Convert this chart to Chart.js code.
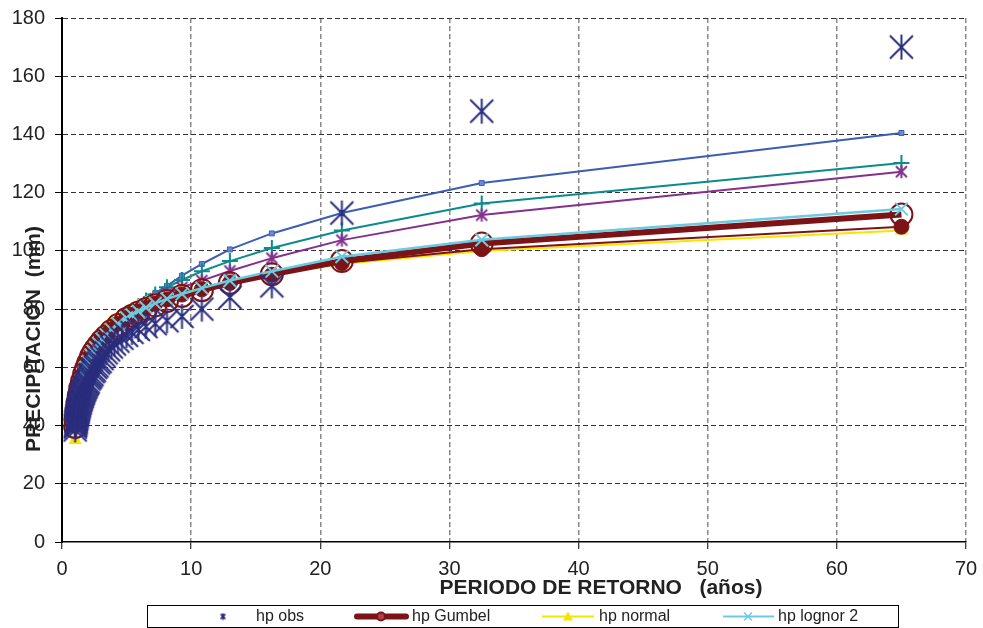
<!DOCTYPE html>
<html>
<head>
<meta charset="utf-8">
<script src="https://cdn.jsdelivr.net/npm/chart.js@4.4.1/dist/chart.umd.min.js"></script>
<style>
  body { margin: 0; background: #fff; }
  #wrap { width: 983px; height: 628px; }
</style>
</head>
<body>
<div id="wrap"><canvas id="myChart" width="983" height="628"></canvas></div>
<script>
// periodos de retorno de la muestra observada (64 datos)
const tObs = [65, 32.5, 21.67, 16.25, 13, 10.83, 9.29, 8.13, 7.22, 6.5, 5.91, 5.42, 5, 4.64, 4.33, 4.06,
  3.82, 3.61, 3.42, 3.25, 3.1, 2.95, 2.83, 2.71, 2.6, 2.5, 2.41, 2.32, 2.24, 2.17, 2.1, 2.03,
  1.97, 1.91, 1.86, 1.81, 1.76, 1.71, 1.67, 1.63, 1.59, 1.55, 1.51, 1.48, 1.44, 1.41, 1.38, 1.35,
  1.33, 1.3, 1.27, 1.25, 1.23, 1.2, 1.18, 1.16, 1.14, 1.12, 1.1, 1.08, 1.07, 1.05, 1.03, 1.02];
const hpObs = [170, 148, 113, 88, 84, 80, 77.5, 76, 75, 74, 73, 72, 71, 70, 69, 68,
  67, 66, 65, 64, 63, 62, 61.5, 60.5, 60, 59, 58.5, 57.5, 57, 56.5, 56, 55,
  54.5, 54, 53.5, 53, 52.5, 52, 51.5, 51, 50.5, 50, 49.5, 49, 48.5, 48, 47.5, 47,
  46.5, 46, 45.5, 45, 44.5, 44, 43.5, 43, 42.5, 42, 41.5, 41, 40.5, 40, 39.5, 38.5];

// periodos de retorno para las curvas ajustadas
const tFit = [65, 32.5, 21.67, 16.25, 13, 10.83, 9.29, 8.13, 7.22, 6.5, 5.91, 5.42, 5, 4.33, 3.82, 3.42,
  3.1, 2.83, 2.6, 2.41, 2.24, 2.03, 1.86, 1.71, 1.55, 1.41, 1.3, 1.2, 1.12, 1.05, 1.02];

const hpGumbel = [112.5, 102.5, 96.5, 92, 89, 86.5, 84.5, 82.8, 81.3, 80, 78.8, 77.7, 76.7, 74.5, 72.5, 70.7,
  69.2, 67.7, 66.3, 65, 63.6, 61.5, 59.5, 57.6, 55.2, 52.8, 50.3, 47.8, 45.2, 41.8, 39.5];
const hpNormal = [107, 100, 95.5, 92, 89.5, 87.5, 86, 84.5, 83.2, 82, 81, 80, 79, 77, 75.3, 73.6,
  72, 70.5, 69, 67.5, 66, 63.5, 61.5, 59.3, 56.5, 53.5, 50.5, 47, 43.5, 38.5, 35];
const hpLognor2 = [114.4, 103.8, 98, 93, 89.8, 87.2, 85.2, 83.5, 82, 80.5, 79.2, 78, 77, 75, 73, 71.2,
  69.7, 68.2, 66.8, 65.5, 64.2, 62, 60, 58.2, 55.8, 53.5, 51, 48.5, 46, 42.5, 40];
// series sin entrada en la leyenda
const hpSerie5 = [140.5, 123.3, 113, 106, 100.5, 95.5, 91.5, 88, 85.5, 83.5, 81.5, 80, 78.5, 76, 73.5, 71.5,
  70, 68.3, 66.8, 65.3, 63.8, 61.3, 59.3, 57.3, 54.8, 52.3, 49.8, 47.3, 44.8, 41.8, 39.8];
const hpSerie6 = [130.2, 116.3, 107, 101, 96.5, 93, 90, 87.5, 85, 83, 81, 79.5, 78, 75.5, 73, 71,
  69.5, 68, 66.5, 65, 63.5, 61, 59, 57, 54.5, 52, 49.5, 47, 44.5, 41.5, 39.5];
const hpSerie7 = [127.2, 112.3, 103.7, 97.5, 93.1, 89.8, 87.5, 85.5, 83.5, 81.5, 80, 78.5, 77.5, 75, 72.5, 70.5,
  69, 67.5, 66, 64.5, 63, 60.5, 58.5, 56.5, 54, 51.5, 49, 46.5, 44, 41, 39];
const hpSerie8 = [108.3, 100.6, 95.8, 91.8, 89, 86.8, 85, 83.3, 81.8, 80.4, 79.2, 78, 77, 75, 73, 71.3,
  69.8, 68.3, 67, 65.6, 64.3, 62.2, 60.3, 58.4, 56, 53.6, 51.2, 48.6, 46, 42.6, 40];

const xTicks = [0, 10, 20, 30, 40, 50, 60, 70];
const yTicks = [0, 20, 40, 60, 80, 100, 120, 140, 160, 180];

const NAVY = '#2b2e7e';
const DRED = '#7c1417';
const YEL = '#f4e600';
const LBLUE = '#6ccbe0';
const BLUE = '#3d5db5';
const TEAL = '#0b8b8b';
const PURP = '#84308c';

function pts(xs, ys) {
    return xs.map((x, i) => ({ x: x, y: ys[i] }));
}

// asterisco estilo Excel (X + linea vertical)
function makeStar(size, color, lw) {
    const c = document.createElement('canvas');
    c.width = size; c.height = size;
    const g = c.getContext('2d');
    const p = lw;
    g.strokeStyle = color;
    g.lineWidth = lw;
    g.beginPath();
    g.moveTo(p, p); g.lineTo(size - p, size - p);
    g.moveTo(size - p, p); g.lineTo(p, size - p);
    g.moveTo(size / 2, p * 0.5); g.lineTo(size / 2, size - p * 0.5);
    g.stroke();
    return c;
}

const starObs = makeStar(27, NAVY, 2);
const starPurp = makeStar(15, PURP, 2);

const titles = {
    id: 'titles',
    afterDraw(chart) {
        const ctx = chart.ctx;
        ctx.save();
        ctx.fillStyle = '#222';
        ctx.font = 'bold 21px "Liberation Sans", Arial, sans-serif';
        ctx.textAlign = 'center';
        ctx.textBaseline = 'middle';
        ctx.fillText('PERIODO DE RETORNO   (años)', 601, 588);
        ctx.translate(34, 339);
        ctx.rotate(-Math.PI / 2);
        ctx.fillText('PRECIPITACION  (mm)', 0, 0);
        ctx.restore();

        // leyenda
        ctx.save();
        ctx.strokeStyle = '#000';
        ctx.lineWidth = 1;
        ctx.strokeRect(147.5, 605.5, 751, 22);
        const ly = 616.5;
        ctx.font = '16px "Liberation Sans", Arial, sans-serif';
        ctx.fillStyle = '#222';
        ctx.textAlign = 'left';
        ctx.textBaseline = 'middle';
        // hp obs
        ctx.drawImage(makeStar(8, NAVY, 1.6), 219, ly - 4);
        ctx.fillText('hp obs', 256, ly);
        // hp Gumbel
        ctx.strokeStyle = DRED; ctx.lineWidth = 6; ctx.lineCap = 'round';
        ctx.beginPath(); ctx.moveTo(357, ly); ctx.lineTo(406, ly); ctx.stroke();
        ctx.lineWidth = 2; ctx.fillStyle = '#b04040';
        ctx.beginPath(); ctx.arc(381, ly, 4, 0, Math.PI * 2); ctx.fill(); ctx.stroke();
        ctx.fillStyle = '#222';
        ctx.fillText('hp Gumbel', 412, ly);
        // hp normal
        ctx.strokeStyle = YEL; ctx.lineWidth = 2; ctx.lineCap = 'butt';
        ctx.beginPath(); ctx.moveTo(542, ly); ctx.lineTo(594, ly); ctx.stroke();
        ctx.fillStyle = YEL;
        ctx.beginPath(); ctx.moveTo(568, ly - 5); ctx.lineTo(573, ly + 4); ctx.lineTo(563, ly + 4); ctx.closePath(); ctx.fill();
        ctx.fillStyle = '#222';
        ctx.fillText('hp normal', 599, ly);
        // hp lognor 2
        ctx.strokeStyle = LBLUE; ctx.lineWidth = 2;
        ctx.beginPath(); ctx.moveTo(723, ly); ctx.lineTo(774, ly); ctx.stroke();
        ctx.lineWidth = 1.5;
        ctx.beginPath();
        ctx.moveTo(744, ly - 4); ctx.lineTo(752, ly + 4);
        ctx.moveTo(752, ly - 4); ctx.lineTo(744, ly + 4);
        ctx.stroke();
        ctx.fillStyle = '#222';
        ctx.fillText('hp lognor 2', 778, ly);
        ctx.restore();
    }
};

window.addEventListener('load', () => {
    const ctx = document.getElementById('myChart').getContext('2d');
    const myChart = new Chart(ctx, {
        type: 'scatter',
        data: {
            datasets: [
                {
                    label: 'hp obs', data: pts(tObs, hpObs), showLine: false,
                    pointStyle: starObs, pointRadius: 13, order: 0
                },
                {
                    label: 'hp Gumbel', data: pts(tFit, hpGumbel), showLine: true,
                    borderColor: DRED, borderWidth: 6, pointStyle: 'circle', pointRadius: 11,
                    pointBorderWidth: 2, pointBorderColor: DRED, pointBackgroundColor: 'rgba(0,0,0,0)', order: 2
                },
                {
                    label: 'hp normal', data: pts(tFit, hpNormal), showLine: true,
                    borderColor: YEL, borderWidth: 2, pointStyle: 'triangle', pointRadius: 7,
                    pointBorderWidth: 1, pointBorderColor: YEL, pointBackgroundColor: YEL, order: 4
                },
                {
                    label: 'hp lognor 2', data: pts(tFit, hpLognor2), showLine: true,
                    borderColor: LBLUE, borderWidth: 2.5, pointStyle: 'crossRot', pointRadius: 9,
                    pointBorderWidth: 2, pointBorderColor: LBLUE, order: 1
                },
                {
                    label: 'hp serie 5', data: pts(tFit, hpSerie5), showLine: true,
                    borderColor: BLUE, borderWidth: 2, pointStyle: 'rect', pointRadius: 3.5,
                    pointBorderWidth: 1, pointBorderColor: BLUE, pointBackgroundColor: '#6a88d6', order: 7
                },
                {
                    label: 'hp serie 6', data: pts(tFit, hpSerie6), showLine: true,
                    borderColor: TEAL, borderWidth: 2, pointStyle: 'cross', pointRadius: 8,
                    pointBorderWidth: 2, pointBorderColor: TEAL, order: 6
                },
                {
                    label: 'hp serie 7', data: pts(tFit, hpSerie7), showLine: true,
                    borderColor: PURP, borderWidth: 2, pointStyle: starPurp, pointRadius: 8, order: 5
                },
                {
                    label: 'hp serie 8', data: pts(tFit, hpSerie8), showLine: true,
                    borderColor: DRED, borderWidth: 2, pointStyle: 'circle', pointRadius: 7.5,
                    pointBorderWidth: 1, pointBorderColor: DRED, pointBackgroundColor: DRED, order: 3
                }
            ]
        },
        options: {
            responsive: false,
            animation: false,
            devicePixelRatio: 1,
            layout: { padding: { left: 0, right: 17, top: 18, bottom: 0 } },
            plugins: { legend: { display: false }, tooltip: { enabled: false } },
            elements: { line: { tension: 0 } },
            scales: {
                x: {
                    type: 'linear', min: 0, max: 70,
                    afterBuildTicks: (s) => { s.ticks = xTicks.map(v => ({ value: v })); },
                    afterFit: (s) => { s.height = 86; s.paddingLeft = 0; s.paddingRight = 0; },
                    ticks: { color: '#222', padding: 8, font: { size: 20, family: '"Liberation Sans", Arial, sans-serif' } },
                    grid: {
                        color: (c) => c.index === 0 ? 'rgba(0,0,0,0)' : '#8a8a8a',
                        lineWidth: 1.5, tickLength: 7, tickColor: '#000', tickWidth: 1
                    },
                    border: { display: true, color: '#000', width: 1.5, dash: [5, 3] }
                },
                y: {
                    type: 'linear', min: 0, max: 180,
                    afterBuildTicks: (s) => { s.ticks = yTicks.map(v => ({ value: v })); },
                    afterFit: (s) => { s.width = 62; s.paddingTop = 0; s.paddingBottom = 0; },
                    ticks: { color: '#222', padding: 10, font: { size: 20, family: '"Liberation Sans", Arial, sans-serif' } },
                    grid: {
                        color: (c) => c.index === 0 ? 'rgba(0,0,0,0)' : '#333',
                        lineWidth: 1, tickLength: 7, tickColor: '#000', tickWidth: 1
                    },
                    border: { display: true, color: '#000', width: 2, dash: [5, 3] }
                }
            }
        },
        plugins: [titles]
    });
});
</script>
</body>
</html>
